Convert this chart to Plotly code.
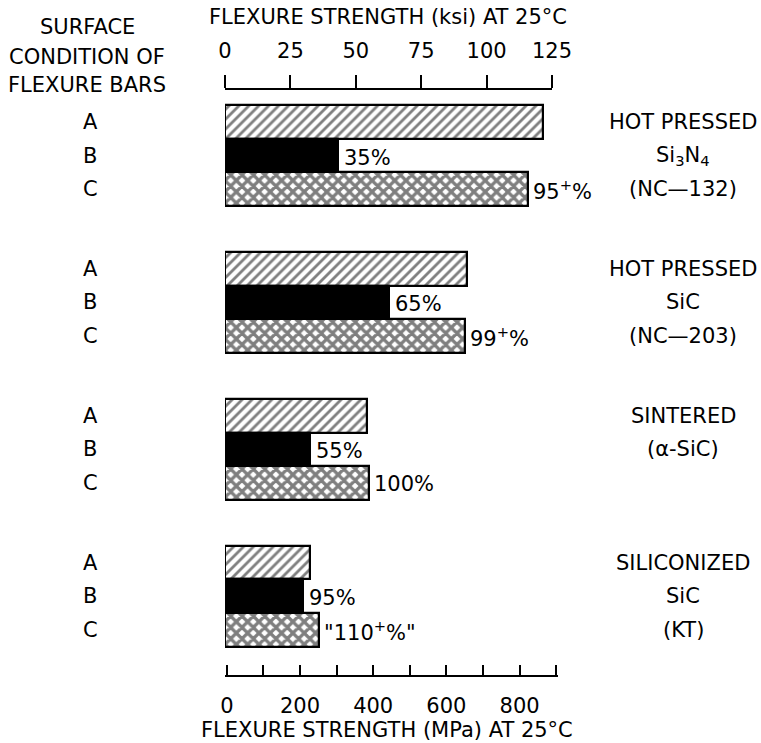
import plotly.graph_objects as go

# ---------------- data ----------------
materials = ["Si3N4 NC-132", "SiC NC-203", "alpha-SiC", "SiC KT"]
surface_conditions = ["A", "B", "C"]
strength_A_ksi = [121.4, 92.4, 54.2, 32.5]
strength_B_ksi = [43.2, 62.7, 32.5, 29.7]
strength_C_ksi = [115.8, 91.7, 55.2, 35.9]
retained_B = ["35%", "65%", "55%", "95%"]
retained_C = ["95<sup>+</sup>%", "99<sup>+</sup>%", "100%", "\"110<sup>+</sup>%\""]
material_labels = [
    ["HOT PRESSED", "Si<sub>3</sub>N<sub>4</sub>", "(NC—132)"],
    ["HOT PRESSED", "SiC", "(NC—203)"],
    ["SINTERED", "(α-SiC)", ""],
    ["SILICONIZED", "SiC", "(KT)"],
]
ksi_ticks = [0, 25, 50, 75, 100, 125]
mpa_ticks = [0, 100, 200, 300, 400, 500, 600, 700, 800, 900]
mpa_labels = ["0", "", "200", "", "400", "", "600", "", "800", ""]

# ---------------- layout helpers ----------------
W, H = 761, 743
L, R, T, B = 225, 558, 90, 675
PW, PH = R - L, B - T


def px_x(x):
    return (x - L) / PW


def px_y(y):
    return (B - y) / PH


GROUP_PITCH = 4.36  # in bar slots
FONT = "DejaVu Sans"
FS = 21


def ypos(g, r):
    return g * GROUP_PITCH + r


series = [
    (strength_A_ksi, dict(color="white", line=dict(color="black", width=2.2),
                          pattern=dict(shape="/", fgcolor="black", bgcolor="white",
                                       size=7, solidity=0.4))),
    (strength_B_ksi, dict(color="black", line=dict(color="black", width=2.2))),
    (strength_C_ksi, dict(color="white", line=dict(color="black", width=2.2),
                          pattern=dict(shape="x", fgcolor="black", bgcolor="white",
                                       size=8, solidity=0.65))),
]

fig = go.Figure()
# empty trace so that the MPa axis subplot is drawn
fig.add_trace(go.Scatter(x=[], y=[], xaxis="x2", yaxis="y", mode="lines",
                         showlegend=False, hoverinfo="skip"))
for r, (vals, marker) in enumerate(series):
    fig.add_trace(go.Bar(
        x=vals, y=[ypos(g, r) for g in range(len(vals))],
        orientation="h", width=1.0, marker=marker,
        xaxis="x", yaxis="y", showlegend=False, hoverinfo="skip",
    ))

ann = []
for g in range(len(materials)):
    ann.append(dict(x=strength_B_ksi[g], y=ypos(g, 1), xref="x", yref="y",
                    text=retained_B[g], showarrow=False, xanchor="left",
                    xshift=4, yshift=-2))
    ann.append(dict(x=strength_C_ksi[g], y=ypos(g, 2), xref="x", yref="y",
                    text=retained_C[g], showarrow=False, xanchor="left",
                    xshift=3, yshift=-1))
    for r, lab in enumerate(surface_conditions):
        ann.append(dict(x=px_x(90), y=ypos(g, r), xref="paper", yref="y",
                        text=lab, showarrow=False, xanchor="center"))
    for r, lab in enumerate(material_labels[g]):
        if lab:
            ann.append(dict(x=px_x(683), y=ypos(g, r), xref="paper", yref="y",
                            text=lab, showarrow=False, xanchor="center"))

for txt, yy in [("SURFACE", 27), ("CONDITION OF", 57), ("FLEXURE BARS", 85)]:
    ann.append(dict(x=px_x(87), y=px_y(yy), xref="paper", yref="paper",
                    text=txt, showarrow=False, xanchor="center", yanchor="middle"))
ann.append(dict(x=px_x(388), y=px_y(17), xref="paper", yref="paper",
                text="FLEXURE STRENGTH (ksi) AT 25°C", showarrow=False,
                xanchor="center", yanchor="middle"))
ann.append(dict(x=px_x(387), y=px_y(730), xref="paper", yref="paper",
                text="FLEXURE STRENGTH (MPa) AT 25°C", showarrow=False,
                xanchor="center", yanchor="middle"))

y_top = (T - 121.8) / 33.7
y_bot = (B - 121.8) / 33.7

fig.update_layout(
    width=W, height=H,
    margin=dict(l=L, r=W - R, t=T, b=H - B, pad=0),
    paper_bgcolor="white", plot_bgcolor="rgba(0,0,0,0)",
    font=dict(family=FONT, size=FS, color="black"),
    barmode="overlay",
    bargap=0,
    annotations=ann,
    xaxis=dict(
        domain=[0, (552 - L) / PW], range=[0, 125], side="top", anchor="y",
        tickvals=ksi_ticks, ticks="outside", ticklen=13, tickwidth=1.5,
        tickcolor="black", showline=True, linecolor="black", linewidth=1.5,
        showgrid=False, zeroline=False, ticklabelstandoff=9,
        tickfont=dict(family=FONT, size=FS),
    ),
    xaxis2=dict(
        domain=[0, 1], range=[-5, 905], side="bottom", anchor="y",
        tickvals=mpa_ticks, ticktext=mpa_labels, ticks="inside", ticklen=10,
        tickwidth=1.5, tickcolor="black", showline=True, linecolor="black",
        linewidth=1.5, showgrid=False, zeroline=False, ticklabelstandoff=11,
        tickfont=dict(family=FONT, size=FS),
    ),
    yaxis=dict(range=[y_bot, y_top], visible=False, anchor="x",
               showgrid=False, zeroline=False),
)

fig.write_html("out.html", config={"displayModeBar": False},
               post_script="document.body.style.margin='0';document.body.style.padding='0';")
